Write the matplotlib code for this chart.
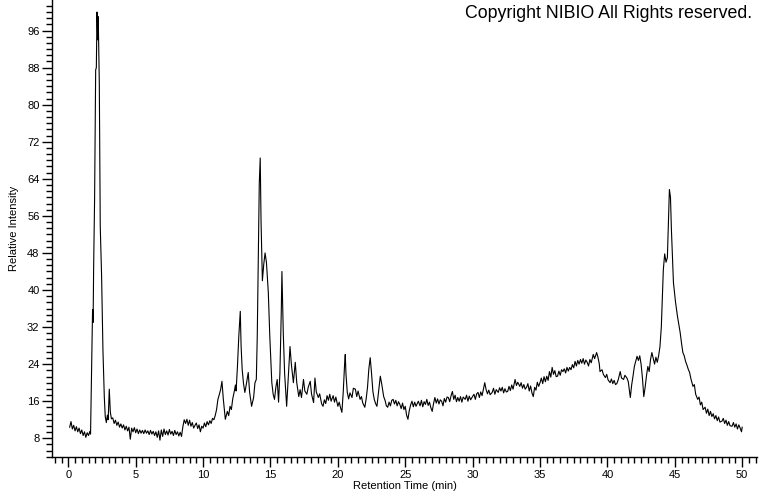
import matplotlib
matplotlib.use("Agg")
import matplotlib.pyplot as plt
from matplotlib.ticker import MultipleLocator

# retention time (min) and relative intensity
rt_min = [
    0.1, 0.2, 0.3, 0.4, 0.5, 0.6, 0.7, 0.8, 0.9, 1.0,
    1.1, 1.2, 1.3, 1.4, 1.5, 1.6, 1.65,
    1.71, 1.80, 1.84, 1.88, 1.95, 2.03, 2.08, 2.13, 2.18, 2.22,
    2.30, 2.37, 2.47, 2.57, 2.67, 2.74, 2.82, 2.9, 2.96, 3.04,
    3.12, 3.2,
    3.3, 3.4, 3.5, 3.6, 3.7, 3.8, 3.9, 4.0, 4.1, 4.2,
    4.3, 4.4, 4.5, 4.6, 4.7, 4.8, 4.9, 5.0, 5.1, 5.2,
    5.3, 5.4, 5.5, 5.6, 5.7, 5.8, 5.9, 6.0, 6.1, 6.2,
    6.3, 6.4, 6.5, 6.6, 6.7, 6.8, 6.9, 7.0, 7.1, 7.2,
    7.3, 7.4, 7.5, 7.6, 7.7, 7.8, 7.9, 8.0, 8.1, 8.2,
    8.3, 8.4,
    8.5, 8.6, 8.7, 8.8, 8.9, 9.0, 9.1, 9.2, 9.3, 9.4,
    9.5, 9.6, 9.7, 9.8, 9.9, 10.0, 10.1, 10.2, 10.3, 10.4,
    10.5, 10.6, 10.7, 10.8, 10.9, 11.0, 11.1, 11.2, 11.3, 11.4,
    11.5, 11.6, 11.65, 11.8, 11.9, 12.0, 12.1, 12.2, 12.3, 12.4,
    12.45, 12.55, 12.65, 12.76, 12.82, 12.9, 13.0, 13.1, 13.2, 13.35,
    13.45, 13.6, 13.75, 13.85, 13.95, 14.02, 14.1, 14.17, 14.24, 14.3,
    14.4, 14.5, 14.6, 14.7, 14.84, 14.95, 15.1, 15.2, 15.3, 15.4,
    15.5, 15.6, 15.7, 15.8, 15.85, 15.95, 16.05, 16.2, 16.3, 16.45,
    16.55, 16.7, 16.84, 16.95, 17.1, 17.2, 17.3, 17.45, 17.55, 17.7,
    17.8, 17.95, 18.05, 18.2, 18.3, 18.4, 18.55, 18.65, 18.8, 18.9,
    19.0, 19.1, 19.2, 19.3, 19.4, 19.5, 19.65, 19.75, 19.85, 20.0,
    20.1, 20.2, 20.3, 20.4, 20.5, 20.55, 20.6, 20.7, 20.8, 20.9,
    21.05, 21.15, 21.3, 21.4, 21.5, 21.65, 21.75, 21.85, 22.0, 22.1,
    22.2, 22.3, 22.4, 22.5, 22.6, 22.7, 22.8, 22.9, 23.0, 23.1,
    23.15, 23.25, 23.4, 23.5, 23.6, 23.7, 23.8, 23.9, 24.0, 24.1,
    24.2, 24.3, 24.4, 24.5, 24.6, 24.7, 24.8, 24.9, 25.0, 25.1,
    25.2, 25.3, 25.4, 25.5, 25.6, 25.7, 25.8, 25.97, 26.1, 26.2,
    26.3, 26.4, 26.5, 26.6, 26.7, 26.8, 26.9, 27.0, 27.1, 27.2,
    27.3, 27.4, 27.5, 27.6, 27.7, 27.8, 27.9, 28.0, 28.1, 28.2,
    28.3, 28.4, 28.5, 28.6, 28.7, 28.8, 28.9, 29.0, 29.1, 29.2,
    29.3, 29.45, 29.55, 29.65, 29.75, 29.85, 29.95, 30.1, 30.2, 30.3,
    30.4, 30.5, 30.6, 30.7, 30.8, 30.9, 31.0, 31.1, 31.2, 31.3,
    31.45, 31.55, 31.65, 31.75, 31.9, 32.0, 32.1, 32.2, 32.3, 32.4,
    32.5, 32.6, 32.7, 32.8, 32.9, 33.0, 33.15, 33.25, 33.35, 33.5,
    33.6, 33.7, 33.8, 33.9, 34.0, 34.1, 34.2, 34.3, 34.4, 34.5,
    34.6, 34.7, 34.8, 34.9, 35.0, 35.1, 35.2, 35.3, 35.4, 35.5,
    35.6, 35.7, 35.8, 35.9, 36.0, 36.1, 36.2, 36.3, 36.4, 36.5,
    36.6, 36.7, 36.8, 36.9, 37.0, 37.1, 37.2, 37.3, 37.4, 37.5,
    37.6, 37.7, 37.8, 37.9, 38.0, 38.1, 38.2, 38.3, 38.4, 38.5,
    38.6, 38.7, 38.8, 38.95, 39.05, 39.2, 39.3, 39.4, 39.45, 39.6,
    39.7, 39.85, 39.95, 40.05, 40.2, 40.3, 40.4, 40.5, 40.6, 40.7,
    40.8, 40.95, 41.05, 41.2, 41.3, 41.45, 41.55, 41.65, 41.7, 41.8,
    41.9, 42.0, 42.2, 42.3, 42.4, 42.5, 42.6, 42.7, 42.8, 42.9,
    43.0, 43.1, 43.2, 43.3, 43.4, 43.5, 43.6, 43.7, 43.8, 43.9,
    44.0, 44.1, 44.15, 44.25, 44.35, 44.45, 44.5, 44.6, 44.68, 44.75,
    44.9, 45.05, 45.2, 45.3, 45.4, 45.5, 45.6, 45.7, 45.8, 45.9,
    46.0, 46.1, 46.2, 46.35, 46.45, 46.55, 46.7, 46.8, 46.9, 47.0,
    47.1, 47.25, 47.35, 47.45, 47.55, 47.65, 47.75, 47.85, 47.95, 48.05,
    48.15, 48.25, 48.35, 48.5, 48.6, 48.7, 48.8, 48.9, 49.0, 49.1,
    49.25, 49.35, 49.45, 49.55, 49.65, 49.75, 49.85, 49.95, 50.0,
]

rel_intensity = [
    10.4, 11.6, 10.0, 10.8, 9.6, 10.5, 9.4, 10.2, 9.0, 9.8,
    8.6, 9.4, 8.2, 9.2, 8.6, 9.5, 8.9,
    19.2, 35.8, 33.0, 45.0, 59.5, 87.5, 88.0, 100.0, 94.0, 99.0,
    84.7, 53.7, 43.0, 27.0, 17.0, 12.7, 11.4, 13.0, 12.0, 18.6,
    13.6, 12.2,
    12.4, 11.2, 11.9, 10.8, 11.5, 10.4, 11.1, 10.2, 10.9, 9.8,
    10.6, 9.6, 10.4, 7.8, 10.2, 9.4, 10.3, 9.2, 10.0, 9.0,
    9.8, 9.1, 9.7, 9.0, 9.8, 9.1, 9.6, 8.8, 9.7, 8.9,
    9.5, 8.6, 9.4, 8.2, 9.6, 7.6, 9.8, 8.4, 10.0, 8.8,
    9.6, 8.7, 9.9, 8.9, 9.5, 8.6, 9.7, 8.8, 9.4, 8.5,
    9.3, 8.4,
    10.5, 12.0, 11.2, 12.1, 10.8, 11.9, 10.6, 11.4, 10.2, 10.8,
    11.3, 10.1, 10.9, 9.4, 10.6, 10.2, 11.3, 10.5, 11.6, 10.9,
    11.8, 11.2, 12.3, 12.0, 12.9, 14.2, 16.4, 17.4, 18.5, 20.3,
    16.5, 13.5, 12.1, 13.8, 12.9, 14.9, 14.2, 16.5, 17.9, 19.5,
    18.2, 23.5, 30.0, 35.4, 28.0, 22.9, 19.8, 17.9, 19.5, 22.2,
    18.0, 14.9, 16.8, 20.0, 20.7, 30.0, 47.0, 63.0, 68.5, 55.0,
    42.0, 45.5, 48.0, 46.0, 39.5, 30.0, 20.0, 17.5, 16.4, 19.0,
    20.7, 15.8, 22.0, 35.0, 44.0, 30.8, 22.0, 14.9, 20.0, 27.8,
    24.0, 20.0, 24.4, 20.0, 17.0, 18.5, 16.8, 20.7, 18.2, 17.5,
    19.0, 20.3, 17.5, 15.7, 21.0, 18.0, 16.8, 17.6, 15.4, 14.9,
    16.3, 15.5, 17.2, 16.2, 17.5, 16.0, 17.2, 15.8, 16.9, 14.9,
    15.8, 14.6, 13.6, 18.0, 24.0, 26.1, 22.0, 17.9, 16.5, 17.8,
    16.8, 18.8, 18.6, 17.0, 18.2, 16.4, 17.0, 15.6, 14.7, 16.5,
    19.0, 23.0, 25.4, 22.0, 18.1, 16.4, 15.5, 14.9, 17.5, 20.0,
    21.4, 19.8, 17.0, 16.2, 15.0, 14.7, 15.8, 15.0, 16.2, 16.4,
    15.4, 16.2, 15.0, 15.9, 15.3, 14.4, 15.6, 14.2, 14.9, 13.0,
    12.1, 14.0, 15.2, 16.0, 14.8, 15.8, 14.9, 16.0, 15.0, 16.2,
    14.8, 15.9, 15.3, 16.4, 15.1, 15.8, 14.6, 13.8, 15.5, 16.8,
    15.6, 16.5, 15.4, 16.3, 16.0, 15.0, 16.6, 15.8, 16.9, 16.8,
    15.9, 17.2, 18.1, 16.4, 17.3, 15.9, 16.8, 16.0, 17.0, 15.8,
    16.9, 16.4, 17.3, 16.0, 17.1, 16.3, 16.8, 17.5, 16.4, 17.6,
    17.9, 16.8, 18.0, 17.2, 18.6, 20.0, 18.5, 17.6, 18.4, 17.4,
    17.9, 18.8, 17.5, 18.5, 17.9, 18.9, 18.2, 19.0, 17.8, 18.7,
    18.0, 18.1, 19.2, 18.3, 19.5, 18.6, 20.7, 19.4, 20.1, 19.2,
    20.0, 18.8, 19.6, 18.6, 19.0, 19.8, 18.2, 19.3, 17.8, 17.0,
    19.0, 18.4, 20.1, 19.2, 20.0, 21.0, 19.8, 21.3, 20.2, 21.4,
    20.5, 22.4, 21.2, 23.3, 21.8, 22.6, 21.3, 21.4, 22.5, 21.6,
    22.8, 22.4, 23.0, 22.1, 23.3, 22.5, 23.3, 22.8, 23.9, 23.2,
    24.6, 23.6, 24.8, 24.0, 25.0, 24.2, 25.2, 24.0, 24.9, 24.4,
    23.6, 25.0, 24.3, 26.1, 25.2, 26.5, 25.5, 24.0, 22.4, 22.8,
    21.8, 21.1, 21.8, 20.6, 20.0, 20.8, 19.8, 20.5, 19.6, 19.8,
    20.6, 22.4, 21.0, 20.7, 21.6, 21.0, 20.2, 18.0, 16.8, 19.5,
    21.4, 23.5, 25.7, 24.8, 25.8, 24.0, 21.0, 17.0, 19.0, 21.5,
    23.5, 22.4, 25.0, 26.5, 25.2, 24.0, 25.5, 24.4, 25.8, 27.8,
    32.0, 40.0, 44.4, 47.8, 46.0, 47.0, 52.0, 61.7, 60.0, 53.0,
    41.6, 37.5, 34.3, 32.5, 30.8, 28.5, 26.5, 25.8, 24.6, 23.8,
    22.9, 22.2, 20.8, 19.2, 19.6, 17.5, 16.4, 16.9, 15.2, 15.8,
    14.2, 14.7, 13.4, 14.3, 12.9, 13.8, 12.7, 13.3, 12.2, 12.9,
    11.8, 12.6, 11.5, 11.7, 12.3, 11.2, 11.9, 10.8, 11.6, 10.7,
    10.6, 11.4, 10.4, 11.1, 10.0, 10.9, 10.2, 9.4, 10.4,
]

assert len(rt_min) == len(rel_intensity)

fig = plt.figure(figsize=(7.6, 4.92), dpi=100)
ax = fig.add_axes([52 / 760, 35 / 492, 705 / 760, 457 / 492])

ax.plot(rt_min, rel_intensity, color="black", linewidth=0.8)

ax.set_xlim(-1.21, 51.1)
ax.set_ylim(3.96, 102.6)

ax.xaxis.set_major_locator(MultipleLocator(5))
ax.xaxis.set_minor_locator(MultipleLocator(0.5))
ax.yaxis.set_major_locator(MultipleLocator(8))
ax.yaxis.set_minor_locator(MultipleLocator(8 / 6))

for side in ["top", "right"]:
    ax.spines[side].set_visible(False)
for side in ["left", "bottom"]:
    ax.spines[side].set_linewidth(1.0)

font = "Liberation Sans"
ax.tick_params(which="major", direction="out", length=7, width=1,
               labelsize=8, pad=2)
ax.tick_params(which="minor", direction="out", length=4, width=1)
for lab in ax.get_xticklabels() + ax.get_yticklabels():
    lab.set_fontfamily(font)

ax.set_xlabel("Retention Time (min)", fontsize=8, fontfamily=font, labelpad=1)
ax.set_ylabel("Relative Intensity", fontsize=8, fontfamily=font, labelpad=6)

fig.text(752 / 760, 1 - 13 / 492, "Copyright NIBIO All Rights reserved.",
         ha="right", va="center", fontsize=12.8, fontfamily=font)

fig.savefig("out.png", dpi=100)
